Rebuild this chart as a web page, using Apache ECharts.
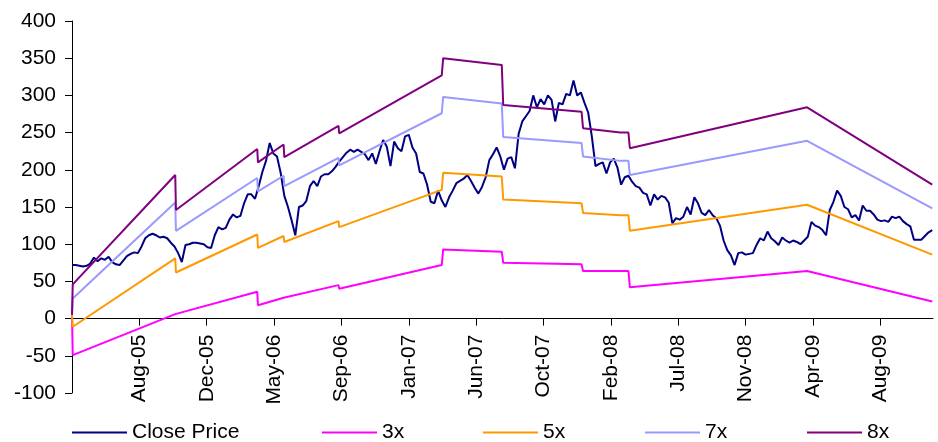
<!DOCTYPE html>
<html>
<head>
<meta charset="utf-8">
<script src="https://cdn.jsdelivr.net/npm/echarts@6/dist/echarts.min.js"></script>
<style>
  html, body { margin: 0; padding: 0; background: #ffffff; }
  #chart { width: 938px; height: 442px; }
</style>
</head>
<body>
<div id="chart"></div>
<script>
// X axis is measured in trading days from the first session.
const DAYS_PER_TICK = 92;
const AXIS_END = 1176;
const DAYS_PER_WEEK = 5;

const tickLabels = ['Aug-05', 'Dec-05', 'May-06', 'Sep-06', 'Jan-07', 'Jun-07',
                    'Oct-07', 'Feb-08', 'Jul-08', 'Nov-08', 'Apr-09', 'Aug-09'];

// Weekly closing prices
const closePrice = [
  72, 72, 71, 70, 71, 74, 82, 77, 81, 79,
  83, 76, 73, 72, 78, 84, 87, 89, 88, 97,
  108, 112, 114, 112, 109, 110, 108, 102, 97, 88,
  76, 99, 100, 102, 102, 101, 100, 96, 95, 112,
  123, 120, 122, 133, 140, 136, 138, 155, 167, 167,
  161, 178, 197, 212, 236, 222, 218, 196, 165, 150,
  132, 112, 150, 152, 158, 178, 185, 178, 191, 194,
  194, 198, 204, 211, 217, 223, 227, 224, 227, 224,
  221, 213, 222, 208, 225, 240, 231, 205, 238, 229,
  225, 245, 247, 230, 222, 197, 195, 180, 157, 155,
  172, 159, 150, 163, 172, 182, 185, 188, 193, 185,
  176, 168, 177, 190, 213, 221, 230, 218, 200, 215,
  217, 202, 248, 265, 272, 279, 300, 284, 295, 288,
  300, 294, 265, 290, 288, 302, 300, 320, 300, 304,
  290, 277, 245, 205, 208, 210, 195, 210, 215, 203,
  180, 190, 192, 184, 178, 176, 169, 167, 152, 167,
  160, 165, 163, 156, 128, 135, 133, 137, 150, 140,
  163, 155, 142, 139, 146, 139, 135, 125, 105, 92,
  85, 72, 88, 89, 86, 87, 88, 99, 108, 105,
  117, 108, 104, 99, 109, 105, 102, 105, 103, 100,
  105, 110, 130, 125, 123, 119, 112, 146, 157, 172,
  165, 150, 147, 136, 139, 132, 152, 145, 145, 140,
  133, 131, 132, 130, 137, 135, 137, 131, 127, 124,
  106, 106, 106, 111, 116, 119
];

// Valuation bands: trading day of each change and the band value there
const bandDays = [0, 1, 141, 142, 253, 254, 289, 290, 364, 365, 505, 507,
                  587, 589, 696, 698, 749, 760, 762, 1004, 1175];
const band3x = [5, -49, 6, 4, 36, 18, 28, 27, 45, 40, 72, 93,
                90, 75, 73, 64, 64, 64, 42, 64, 23];
const band5x = [5, -11, 81, 62, 113, 95, 111, 103, 131, 123, 173, 196,
                191, 160, 155, 142, 139, 139, 118, 153, 86];
const band7x = [5, 27, 156, 118, 189, 171, 192, 178, 216, 206, 276, 298,
                289, 244, 236, 218, 212, 212, 193, 239, 148];
const band8x = [5, 46, 193, 146, 228, 210, 234, 217, 259, 249, 327, 350,
                341, 287, 278, 256, 250, 250, 229, 284, 180];

const Y_MIN = -100;
const Y_MAX = 400;
const GRID = { left: 72, right: 5, top: 21, bottom: 49 };
const CHART_H = 442;

const FONT = 'Liberation Sans, Arial, Helvetica, sans-serif';

const seriesDefs = [
  { name: 'Close Price', color: '#000080', data: closePrice.map((v, i) => [i * DAYS_PER_WEEK, v]) },
  { name: '3x', color: '#FF00FF', data: bandDays.map((d, i) => [d, band3x[i]]) },
  { name: '5x', color: '#FF9900', data: bandDays.map((d, i) => [d, band5x[i]]) },
  { name: '7x', color: '#9999FF', data: bandDays.map((d, i) => [d, band7x[i]]) },
  { name: '8x', color: '#800080', data: bandDays.map((d, i) => [d, band8x[i]]) }
];

const legendLeft = [72, 322, 483, 645, 807];
const tickDays = tickLabels.map((_, k) => (k + 1) * DAYS_PER_TICK);

// The date axis sits on the zero line: shift it up from the grid's bottom edge.
const plotH = CHART_H - GRID.top - GRID.bottom;
const zeroShift = plotH * (0 - Y_MIN) / (Y_MAX - Y_MIN);

const chart = echarts.init(document.getElementById('chart'), null, { renderer: 'canvas' });
chart.setOption({
  animation: false,
  backgroundColor: '#ffffff',
  grid: Object.assign({ containLabel: false, outerBoundsMode: 'none' }, GRID),
  legend: seriesDefs.map((s, k) => ({
    data: [s.name],
    left: legendLeft[k],
    top: 422,
    icon: 'rect',
    itemWidth: 55,
    itemHeight: 2,
    padding: 0,
    textStyle: { fontFamily: FONT, fontSize: 21, color: '#000' }
  })),
  xAxis: {
    type: 'value',
    min: 0,
    max: AXIS_END,
    interval: DAYS_PER_TICK,
    offset: -zeroShift,
    splitLine: { show: false },
    axisLine: { onZero: false, lineStyle: { color: '#000', width: 1 } },
    axisTick: { show: true, length: 7, customValues: tickDays, lineStyle: { color: '#000' } },
    axisLabel: {
      customValues: tickDays,
      rotate: 90,
      margin: 16,
      fontFamily: FONT,
      fontSize: 21,
      color: '#000',
      formatter: v => tickLabels[Math.round(v / DAYS_PER_TICK) - 1] || ''
    }
  },
  yAxis: {
    type: 'value',
    min: Y_MIN,
    max: Y_MAX,
    interval: 50,
    splitLine: { show: false },
    axisLine: { show: true, onZero: false, lineStyle: { color: '#000', width: 1 } },
    axisTick: { show: true, length: 7, lineStyle: { color: '#000' } },
    axisLabel: { margin: 16, fontFamily: FONT, fontSize: 21, color: '#000' }
  },
  series: seriesDefs.map(s => ({
    name: s.name,
    type: 'line',
    data: s.data,
    symbol: 'none',
    showSymbol: false,
    color: s.color,
    lineStyle: { color: s.color, width: 2 },
    z: 2
  }))
});
</script>
</body>
</html>
